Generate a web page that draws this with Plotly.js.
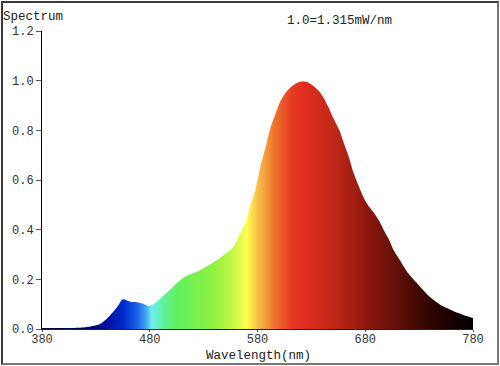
<!DOCTYPE html>
<html>
<head>
<meta charset="utf-8">
<script src="https://cdn.plot.ly/plotly-3.0.1.min.js"></script>
<style>
html,body{margin:0;padding:0;background:#fff;}
#wrap{position:relative;width:500px;height:366px;}
#chart{position:absolute;left:0;top:0;width:500px;height:366px;}
#frame{position:absolute;left:1px;top:1px;width:494px;height:360px;border:2px solid #3a3a3a;border-right-color:#777;border-bottom-color:#777;pointer-events:none;}
</style>
</head>
<body>
<div id="wrap"><div id="chart"></div><div id="frame"></div></div>
<script>
// Wavelength (nm)
var wavelengths = [380, 400, 415, 425, 434, 441, 450, 455, 462, 468, 474, 479, 485, 490, 496, 502, 511, 519, 527, 535, 543, 550, 557, 564, 569, 573, 578, 583, 588, 592, 597, 601, 606, 611, 616, 622, 627, 632, 637, 641, 646, 651, 656, 660, 665, 669, 674, 679, 684, 688, 693, 697, 702, 706, 711, 716, 720, 725, 732, 738, 744, 750, 758, 766, 773, 780];
// Relative spectrum (1.0 = 1.315 mW/nm)
var spectrum = [0.004, 0.004, 0.005, 0.01, 0.02, 0.045, 0.09, 0.12, 0.11, 0.108, 0.102, 0.093, 0.105, 0.124, 0.147, 0.171, 0.206, 0.222, 0.238, 0.258, 0.279, 0.302, 0.327, 0.385, 0.43, 0.49, 0.56, 0.66, 0.74, 0.81, 0.87, 0.915, 0.95, 0.974, 0.99, 0.998, 0.993, 0.979, 0.958, 0.933, 0.892, 0.844, 0.80, 0.75, 0.69, 0.63, 0.575, 0.525, 0.49, 0.468, 0.435, 0.40, 0.36, 0.32, 0.285, 0.25, 0.223, 0.198, 0.165, 0.137, 0.115, 0.097, 0.08, 0.065, 0.053, 0.044];
var xTicks = [380, 480, 580, 680, 780];
var yTicks = [0, 0.2, 0.4, 0.6, 0.8, 1.0, 1.2];
var yTickLabels = ["0.0", "0.2", "0.4", "0.6", "0.8", "1.0", "1.2"];

// wavelength -> colour stops for the gradient fill
var colorStopsNm = [380, 420, 440, 455, 468, 476, 482, 492, 505, 540, 560, 570, 580, 595, 612, 625, 650, 680, 710, 740, 780];
var colorStopsHex = ["#000030", "#000060", "#0010a0", "#0028c8", "#1a60e8", "#40a0f0", "#70f0f0", "#60f0a0", "#60f060", "#90f040", "#d0f848", "#ffff50", "#f8c048", "#f07830", "#e83820", "#e02c20", "#c02818", "#901810", "#601008", "#300500", "#000000"];

var wMin = 380, wMax = 780;
var colorscale = colorStopsNm.map(function(n, i){ return [(n - wMin) / (wMax - wMin), colorStopsHex[i]]; });

var font = "Liberation Mono, DejaVu Sans Mono, monospace";

var trace = {
  x: wavelengths,
  y: spectrum,
  type: "scatter",
  mode: "lines",
  line: {color: "rgba(0,0,0,0)", width: 0, shape: "spline", smoothing: 0.6},
  fill: "tozeroy",
  fillgradient: {type: "horizontal", colorscale: colorscale, start: wMin, stop: wMax},
  hoverinfo: "skip"
};

var layout = {
  width: 500, height: 366,
  margin: {l: 42, r: 27, t: 31, b: 37, pad: 0},
  paper_bgcolor: "#fff", plot_bgcolor: "#fff",
  showlegend: false,
  font: {family: font, size: 12, color: "#333"},
  xaxis: {
    range: [wMin, wMax], tickvals: xTicks, ticktext: xTicks.map(String),
    showgrid: false, zeroline: false, showline: true, linecolor: "#222", linewidth: 1,
    ticks: "outside", ticklen: 2, tickcolor: "#555", ticklabelstandoff: -3,
    tickfont: {family: font, size: 12, color: "#333"}
  },
  yaxis: {
    range: [0, 1.2], tickvals: yTicks, ticktext: yTickLabels,
    showgrid: false, zeroline: false, showline: true, linecolor: "#000", linewidth: 1,
    ticks: "outside", ticklen: 5, tickcolor: "#555", tickfont: {family: font, size: 12, color: "#333"}
  },
  annotations: [
    {text: "Spectrum", xref: "paper", yref: "paper", x: -0.095, y: 1.047, xanchor: "left", yanchor: "middle", showarrow: false, font: {family: font, size: 12.5, color: "#222"}},
    {text: "1.0=1.315mW/nm", xref: "paper", yref: "paper", x: 0.563, y: 1.034, xanchor: "left", yanchor: "middle", showarrow: false, font: {family: font, size: 12.5, color: "#222"}},
    {text: "Wavelength(nm)", xref: "paper", yref: "paper", x: 0.502, y: -0.09, xanchor: "center", yanchor: "middle", showarrow: false, font: {family: font, size: 12.5, color: "#222"}}
  ]
};

Plotly.newPlot("chart", [trace], layout, {displayModeBar: false, staticPlot: true});
</script>
</body>
</html>
